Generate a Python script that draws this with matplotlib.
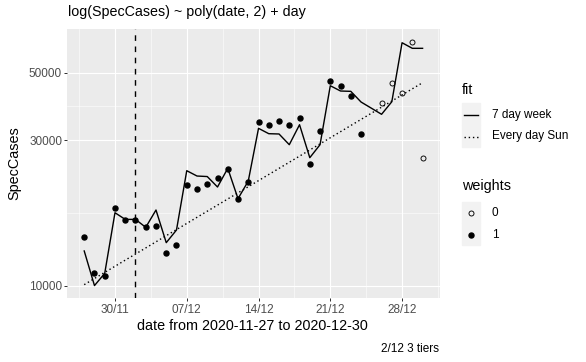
import matplotlib
matplotlib.use("Agg")
import matplotlib.pyplot as plt
import matplotlib.dates as mdates
from matplotlib.patches import Rectangle
from matplotlib.lines import Line2D
import numpy as np
import pandas as pd

plt.rcParams['font.family'] = ['Liberation Sans', 'DejaVu Sans']

# dati (25/12 mancante)
dates = pd.date_range("2020-11-27", "2020-12-30")
dates = dates[dates != pd.Timestamp("2020-12-25")]

cases = [14410, 10980, 10735, 17940, 16390, 16420, 15580, 15700, 12770, 13650,
         21340, 20700, 21550, 22550, 24080, 19290, 21930, 34420, 33570, 34670,
         33570, 35550, 25000, 32200, 46800, 45060, 41780, 31440,
         39700, 46310, 42740, 63100, 26170]
weights = [1] * 28 + [0] * 5

fit_week = [13000, 10010, 10980, 17350, 16500, 16500, 15540, 17710, 13840, 15230,
            23830, 22890, 22800, 21070, 24260, 19290, 22040, 32810, 31510, 31440,
            29000, 33720, 26290, 29000, 45260, 43490, 43380, 40020,
            36480, 40110, 62610, 60030, 60030]
fit_sun = [10080, 10560, 11060, 11580, 12130, 12700, 13300, 13930, 14590, 15280,
           16000, 16760, 17550, 18380, 19250, 20160, 21110, 22110, 23160, 24250,
           25400, 26600, 27860, 29180, 30560, 32000, 33520, 35100,
           38500, 40320, 42230, 44220, 46310]

vline_date = pd.Timestamp("2020-12-02")
y_breaks = [10000, 30000, 50000]
y_minor = [17320, 38730]
x_breaks = pd.to_datetime(["2020-11-30", "2020-12-07", "2020-12-14", "2020-12-21", "2020-12-28"])
x_labels = ["30/11", "07/12", "14/12", "21/12", "28/12"]

W, H = 586, 362
fig = plt.figure(figsize=(W / 100, H / 100), dpi=100)
ax = fig.add_axes([67.3 / W, 1 - 297.7 / H, (439.5 - 67.3) / W, (297.7 - 29.3) / H])
ax.set_facecolor('#EBEBEB')
for s in ax.spines.values():
    s.set_visible(False)

pt = 72 / 100  # px -> pt

ax.set_yscale('log')
ax.set_ylim(9135, 69300)
x0 = mdates.date2num(pd.Timestamp("2020-11-27")) - 1.65
x1 = mdates.date2num(pd.Timestamp("2020-12-30")) + 1.65
ax.set_xlim(x0, x1)

# griglia
minor_x = [mdates.date2num(d) - 3.5 for d in x_breaks] + [mdates.date2num(x_breaks[-1]) + 3.5]
for v in minor_x:
    ax.axvline(v, color='white', lw=0.55 * pt, zorder=0)
for v in y_minor:
    ax.axhline(v, color='white', lw=0.55 * pt, zorder=0)
for v in x_breaks:
    ax.axvline(v, color='white', lw=1.1 * pt, zorder=0)
for v in y_breaks:
    ax.axhline(v, color='white', lw=1.1 * pt, zorder=0)

ax.set_yticks(y_breaks)
ax.set_yticklabels([str(v) for v in y_breaks])
ax.yaxis.set_minor_locator(matplotlib.ticker.NullLocator())
ax.set_xticks(x_breaks)
ax.set_xticklabels(x_labels)
ax.tick_params(axis='both', length=2.75 * pt, width=1.0 * pt, color='#333333',
               labelcolor='#4D4D4D', labelsize=11.7 * pt, pad=2.5 * pt)
ax.tick_params(axis='x', pad=4.0 * pt)

# linee
ax.plot(dates, fit_week, color='black', lw=1.4 * pt, zorder=3)
ax.plot(dates, fit_sun, color='black', lw=1.4 * pt, ls=(0, (1, 2)), zorder=3)
ax.axvline(vline_date, color='black', lw=1.4 * pt, ls=(0, (4, 4)), zorder=3)

# punti
w = np.array(weights)
d = np.array(dates)
c = np.array(cases)
ax.plot(d[w == 1], c[w == 1], 'o', color='black', ms=5 * pt, zorder=4)
ax.plot(d[w == 0], c[w == 0], 'o', mfc='none', mec='black', mew=0.9 * pt, ms=5 * pt, zorder=4)

# testi
fig.text(68 / W, 1 - 12 / H, "log(SpecCases) ~ poly(date, 2) + day", fontsize=14.3 * pt,
         ha='left', va='center')
fig.text(14 / W, 1 - 163.5 / H, "SpecCases", fontsize=14.4 * pt, rotation=90, ha='center', va='center')
fig.text(252.8 / W, 1 - 326 / H, "date from 2020-11-27 to 2020-12-30", fontsize=14.4 * pt,
         ha='center', va='center')
fig.text(439 / W, 1 - 349 / H, "2/12 3 tiers", fontsize=11.7 * pt, ha='right', va='center')

# legenda
def key_bg(ytop, n):
    for i in range(n):
        fig.patches.append(Rectangle((462 / W, 1 - (ytop + 21.5 * (i + 1)) / H), 18 / W, 21.5 / H,
                                     transform=fig.transFigure, color='#F2F2F2', zorder=0))

fig.text(462 / W, 1 - 90 / H, "fit", fontsize=14.4 * pt, ha='left', va='center')
key_bg(103.5, 2)
fig.lines.append(Line2D([464 / W, 478 / W], [1 - 114.5 / H] * 2, transform=fig.transFigure,
                        color='black', lw=1.4 * pt))
fig.lines.append(Line2D([464 / W, 478 / W], [1 - 136.5 / H] * 2, transform=fig.transFigure,
                        color='black', lw=1.4 * pt, ls=(0, (1, 2))))
fig.text(492 / W, 1 - 114.5 / H, "7 day week", fontsize=11.7 * pt, ha='left', va='center')
fig.text(492 / W, 1 - 136.5 / H, "Every day Sun", fontsize=11.7 * pt, ha='left', va='center')

fig.text(462 / W, 1 - 186 / H, "weights", fontsize=14.4 * pt, ha='left', va='center')
key_bg(201.5, 2)
fig.lines.append(Line2D([471 / W], [1 - 212.5 / H], transform=fig.transFigure, marker='o',
                        mfc='none', mec='black', mew=0.9 * pt, ms=5 * pt, ls='none'))
fig.lines.append(Line2D([471 / W], [1 - 234.5 / H], transform=fig.transFigure, marker='o',
                        color='black', ms=5 * pt, ls='none'))
fig.text(492 / W, 1 - 212.5 / H, "0", fontsize=11.7 * pt, ha='left', va='center')
fig.text(492 / W, 1 - 234.5 / H, "1", fontsize=11.7 * pt, ha='left', va='center')

fig.savefig("out.png", dpi=100)
plt.close(fig)
